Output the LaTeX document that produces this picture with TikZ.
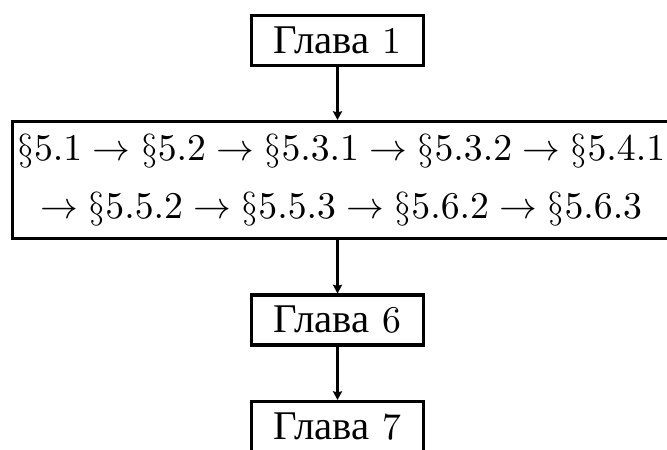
\documentclass[tikz,border=0pt]{standalone}
\usepackage{fontspec}
\newfontfamily\cyrfont[Scale=1.08]{Liberation Serif}
\usetikzlibrary{arrows.meta}
% one unit = one pixel of the finished picture
\tikzset{
  x=0.265pt, y=-0.265pt,
  chapter/.style={draw, line width=0.8pt, minimum width=45.4pt, minimum height=13.25pt, inner sep=0pt},
  sections/.style={draw, line width=0.8pt, minimum width=174.2pt, minimum height=31pt, inner sep=0pt, align=center},
  flow/.style={line width=0.8pt, -{Stealth[length=2.3pt, width=2.4pt, inset=0.3pt]}}
}
\newcommand\chapname{{\cyrfont Глава}}
\begin{document}
\begin{tikzpicture}
  \useasboundingbox (0,0) rectangle (667,450);
  \node[chapter] (ch1) at (337.5,40.5) {\chapname~1};
  \node[sections] (sec) at (341.25,180)
    {$\S5.1 \to \S5.2 \to \S5.3.1 \to \S5.3.2 \to \S5.4.1$\\[3.4pt]
     $\to \S5.5.2 \to \S5.5.3 \to \S5.6.2 \to \S5.6.3$};
  \node[chapter] (ch6) at (337.5,320) {\chapname~6};
  \node[chapter] (ch7) at (337.5,426.5) {\chapname~7};
  \draw[flow] (ch1.south) -- (ch1.south |- sec.north);
  \draw[flow] (ch6.north |- sec.south) -- (ch6.north);
  \draw[flow] (ch6.south) -- (ch7.north);
\end{tikzpicture}
\end{document}
